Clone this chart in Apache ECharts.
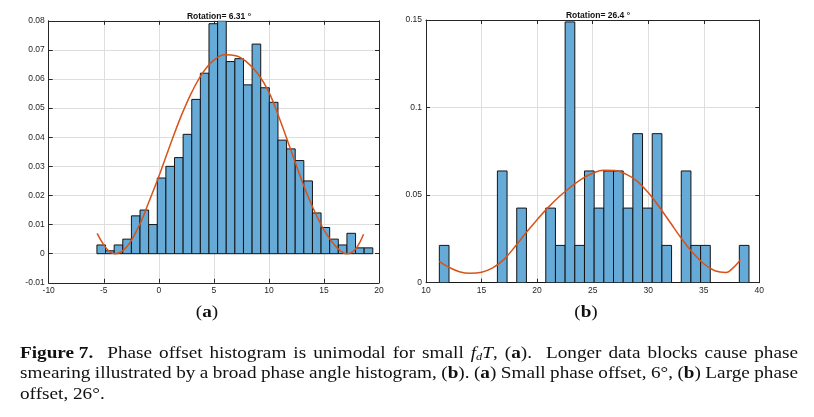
<!DOCTYPE html>
<html><head><meta charset="utf-8">
<script src="https://cdn.jsdelivr.net/npm/echarts@6/dist/echarts.min.js"></script>
<style>html,body{margin:0;padding:0;background:#fff}#c{width:814px;height:417px}</style>
</head><body><div id="c"></div>
<script>
// ---- Data: panel (a) ----
const titleA = 'Rotation= 6.31 °';
const edgesA = [-5.62,-4.837,-4.054,-3.271,-2.488,-1.705,-0.922,-0.139,0.644,1.427,2.21,2.993,3.776,4.559,5.342,6.125,6.908,7.691,8.474,9.257,10.04,10.823,11.606,12.389,13.172,13.955,14.738,15.521,16.304,17.087,17.87,18.653,19.436];
const valuesA = [0.003,0.001,0.003,0.005,0.013,0.015,0.010,0.026,0.030,0.033,0.041,0.053,0.062,0.079,0.080,0.066,0.067,0.058,0.072,0.057,0.052,0.039,0.036,0.032,0.025,0.014,0.009,0.005,0.003,0.007,0.002,0.002];
const curveAX = [-5.6,-5,-4.5,-4,-3.5,-3,-2.5,-2,-1.5,-1,0,1,2,3,4,5,6,7,8,9,10,11,12,13,14,15,16,16.5,17,17.5,18,18.6];
const curveAY = [0.0070,0.0030,0.0008,0.0,0.0005,0.0020,0.0045,0.0080,0.0120,0.0168,0.0265,0.0370,0.0470,0.0555,0.0622,0.0665,0.0683,0.0680,0.0658,0.0618,0.0555,0.0460,0.0355,0.0250,0.0158,0.0082,0.0028,0.0010,0.0,0.0004,0.0022,0.0067];
const xTicksA = {min:-10, max:20, interval:5};
const yTicksA = {min:-0.01, max:0.08, interval:0.01};

// ---- Data: panel (b) ----
const titleB = 'Rotation= 26.4 °';
const edgesB = [11.2,12.071,12.942,13.813,14.684,15.555,16.426,17.297,18.168,19.039,19.91,20.781,21.652,22.523,23.394,24.265,25.136,26.007,26.878,27.749,28.62,29.491,30.362,31.233,32.104,32.975,33.846,34.717,35.588,36.459,37.33,38.201,39.072];
const valuesB = [0.0213,0,0,0,0,0,0.0638,0,0.0426,0,0,0.0426,0.0213,0.1489,0.0213,0.0638,0.0426,0.0638,0.0638,0.0426,0.0851,0.0426,0.0851,0.0213,0,0.0638,0.0213,0.0213,0,0,0,0.0213];
const curveBX = [11.2,12,13,14,15,16,17,18,19,20,21,22,23,24,25,26,27,28,29,30,31,32,33,34,35,36,37,37.5,38.3];
const curveBY = [0.0122,0.0090,0.0063,0.0054,0.0060,0.0085,0.0132,0.0205,0.0285,0.0360,0.0430,0.0492,0.0545,0.0592,0.0625,0.0642,0.0640,0.0620,0.0580,0.0515,0.0432,0.0342,0.0252,0.0172,0.0108,0.0068,0.0058,0.0076,0.0130];
const xTicksB = {min:10, max:40, interval:5};
const yTicksB = {min:0, max:0.15, interval:0.05};

// ---- Labels / caption ----
const panelLabels = ['({b|a})', '({b|b})'];
const captionLines = [
  '{b|Figure 7.}  Phase offset histogram is unimodal for small {i|f}{sub|d}{i|T}, ({b|a}).  Longer data blocks cause phase',
  'smearing illustrated by a broad phase angle histogram, ({b|b}). ({b|a}) Small phase offset, 6°, ({b|b}) Large phase',
  'offset, 26°.'
];
const captionJustify = [true, true, false];

// ---- Styles / layout ----
const AX = '#262626';
const BAR_FILL = '#66aad7';
const BAR_EDGE = '#141414';
const CURVE = '#d95319';
const GRIDC = '#dedede';
const SANS = 'Liberation Sans';
const SERIF = 'Liberation Serif';
const FS = 17, SX = 1.13, CAP_LEFT = 20, CAP_RIGHT = 798;
const captionY = [354, 374, 395];

function histData(edges, vals){ return vals.map((v,i)=>[edges[i], edges[i+1], v]); }
function curveData(xs, ys){ return xs.map((x,i)=>[x, ys[i]]); }

function renderHist(params, api){
  const x0 = api.value(0), x1 = api.value(1), y = api.value(2);
  const p0 = api.coord([x0, y]);
  const p1 = api.coord([x1, 0]);
  return {type:'rect', shape:{x:p0[0], y:p0[1], width:p1[0]-p0[0], height:p1[1]-p0[1]},
    style:{fill:BAR_FILL, stroke:BAR_EDGE, lineWidth:1}};
}

function mainX(g, t){
  return {gridIndex:g, type:'value', min:t.min, max:t.max, interval:t.interval, position:'bottom',
    axisLine:{show:true, onZero:false, lineStyle:{color:AX, width:1}},
    axisTick:{show:true, inside:true, length:4, lineStyle:{color:AX}},
    axisLabel:{show:true, fontFamily:SANS, fontSize:8.5, color:AX, margin:3, showMinLabel:true, showMaxLabel:true},
    splitLine:{show:true, lineStyle:{color:GRIDC, width:1}}};
}
function sideX(g, t){
  return {gridIndex:g, type:'value', min:t.min, max:t.max, interval:t.interval, position:'top',
    axisLine:{show:true, onZero:false, lineStyle:{color:AX, width:1}},
    axisTick:{show:true, inside:true, length:4, lineStyle:{color:AX}},
    axisLabel:{show:false}, splitLine:{show:false}};
}
function mainY(g, t){
  return {gridIndex:g, type:'value', min:t.min, max:t.max, interval:t.interval, position:'left',
    axisLine:{show:true, onZero:false, lineStyle:{color:AX, width:1}},
    axisTick:{show:true, inside:true, length:4, lineStyle:{color:AX}},
    axisLabel:{show:true, fontFamily:SANS, fontSize:8.5, color:AX, margin:4, showMinLabel:true, showMaxLabel:true},
    splitLine:{show:true, lineStyle:{color:GRIDC, width:1}}};
}
function sideY(g, t){
  return {gridIndex:g, type:'value', min:t.min, max:t.max, interval:t.interval, position:'right',
    axisLine:{show:true, onZero:false, lineStyle:{color:AX, width:1}},
    axisTick:{show:true, inside:true, length:4, lineStyle:{color:AX}},
    axisLabel:{show:false}, splitLine:{show:false}};
}

const baseRich = {
  n:{fontFamily:SERIF, fontSize:FS, fill:'#111'},
  b:{fontFamily:SERIF, fontSize:FS, fontWeight:'bold', fill:'#111'},
  i:{fontFamily:SERIF, fontSize:FS, fontStyle:'italic', fill:'#111'},
  sub:{fontFamily:SERIF, fontSize:11, fontStyle:'italic', fill:'#111', lineHeight:10, verticalAlign:'bottom'}
};
const mctx = document.createElement('canvas').getContext('2d');
function fontFor(tag){
  if(tag==='b') return 'bold '+FS+'px "'+SERIF+'"';
  if(tag==='i') return 'italic '+FS+'px "'+SERIF+'"';
  if(tag==='sub') return 'italic 11px "'+SERIF+'"';
  return FS+'px "'+SERIF+'"';
}
function buildLine(line, doJustify){
  const re = /\{(\w+)\|([^}]*)\}|([^{]+)/g; let m; const toks=[];
  while((m=re.exec(line))){ if(m[1]) toks.push({tag:m[1], text:m[2]}); else toks.push({tag:null, text:m[3]}); }
  let w=0, nsp=0;
  toks.forEach(t=>{
    mctx.font=fontFor(t.tag);
    if(t.tag){ w+=mctx.measureText(t.text).width; }
    else { const parts=t.text.split(' '); parts.forEach(p=>{ w+=mctx.measureText(p).width; }); nsp+=parts.length-1; }
  });
  mctx.font=fontFor(null);
  let sw = mctx.measureText(' ').width;
  if(doJustify && nsp>0){ sw = ((CAP_RIGHT-CAP_LEFT)/SX - w)/nsp; }
  const text = toks.map(t=> t.tag ? '{'+t.tag+'|'+t.text+'}' :
     t.text.split(' ').map(p=> p ? '{n|'+p+'}' : '').join('{s| }')).join('');
  const rich = Object.assign({}, baseRich, {s:{fontFamily:SERIF, fontSize:FS, width:sw}});
  return {text, rich};
}

const chart = echarts.init(document.getElementById('c'), null, {renderer:'canvas'});
const capGraphics = captionLines.map((ln,k)=>{
  const r = buildLine(ln, captionJustify[k]);
  return {type:'text', x:CAP_LEFT, y:captionY[k], scaleX:SX,
    style:{text:r.text, rich:r.rich, fontFamily:SERIF, fontSize:FS, fill:'#111', align:'left', verticalAlign:'middle'}};
});

chart.setOption({
  animation:false,
  backgroundColor:'#fff',
  title:[
    {text:titleA, left:214, top:7, textAlign:'center', textStyle:{fontFamily:SANS, fontSize:8.5, fontWeight:'bold', color:'#111'}},
    {text:titleB, left:593, top:6, textAlign:'center', textStyle:{fontFamily:SANS, fontSize:8.5, fontWeight:'bold', color:'#111'}}
  ],
  grid:[
    {left:48.7, top:20.8, width:330.3, height:262, containLabel:false},
    {left:426, top:20, width:333.3, height:262.7, containLabel:false}
  ],
  xAxis:[mainX(0,xTicksA), sideX(0,xTicksA), mainX(1,xTicksB), sideX(1,xTicksB)],
  yAxis:[mainY(0,yTicksA), sideY(0,yTicksA), mainY(1,yTicksB), sideY(1,yTicksB)],
  series:[
    {type:'custom', xAxisIndex:0, yAxisIndex:0, renderItem:renderHist, data:histData(edgesA, valuesA), encode:{x:[0,1], y:2}, clip:true, z:2},
    {type:'line', xAxisIndex:0, yAxisIndex:0, data:curveData(curveAX, curveAY), smooth:0.4, showSymbol:false, symbol:'none', lineStyle:{color:CURVE, width:1.5}, z:3},
    {type:'custom', xAxisIndex:2, yAxisIndex:2, renderItem:renderHist, data:histData(edgesB, valuesB), encode:{x:[0,1], y:2}, clip:true, z:2},
    {type:'line', xAxisIndex:2, yAxisIndex:2, data:curveData(curveBX, curveBY), smooth:0.4, showSymbol:false, symbol:'none', lineStyle:{color:CURVE, width:1.5}, z:3}
  ],
  graphic:[
    {type:'text', x:207, y:313, scaleX:SX, style:{text:panelLabels[0], rich:baseRich, fontFamily:SERIF, fontSize:FS, fill:'#111', align:'center', verticalAlign:'middle'}},
    {type:'text', x:586, y:313, scaleX:SX, style:{text:panelLabels[1], rich:baseRich, fontFamily:SERIF, fontSize:FS, fill:'#111', align:'center', verticalAlign:'middle'}},
    ...capGraphics
  ]
});
</script>
</body></html>
